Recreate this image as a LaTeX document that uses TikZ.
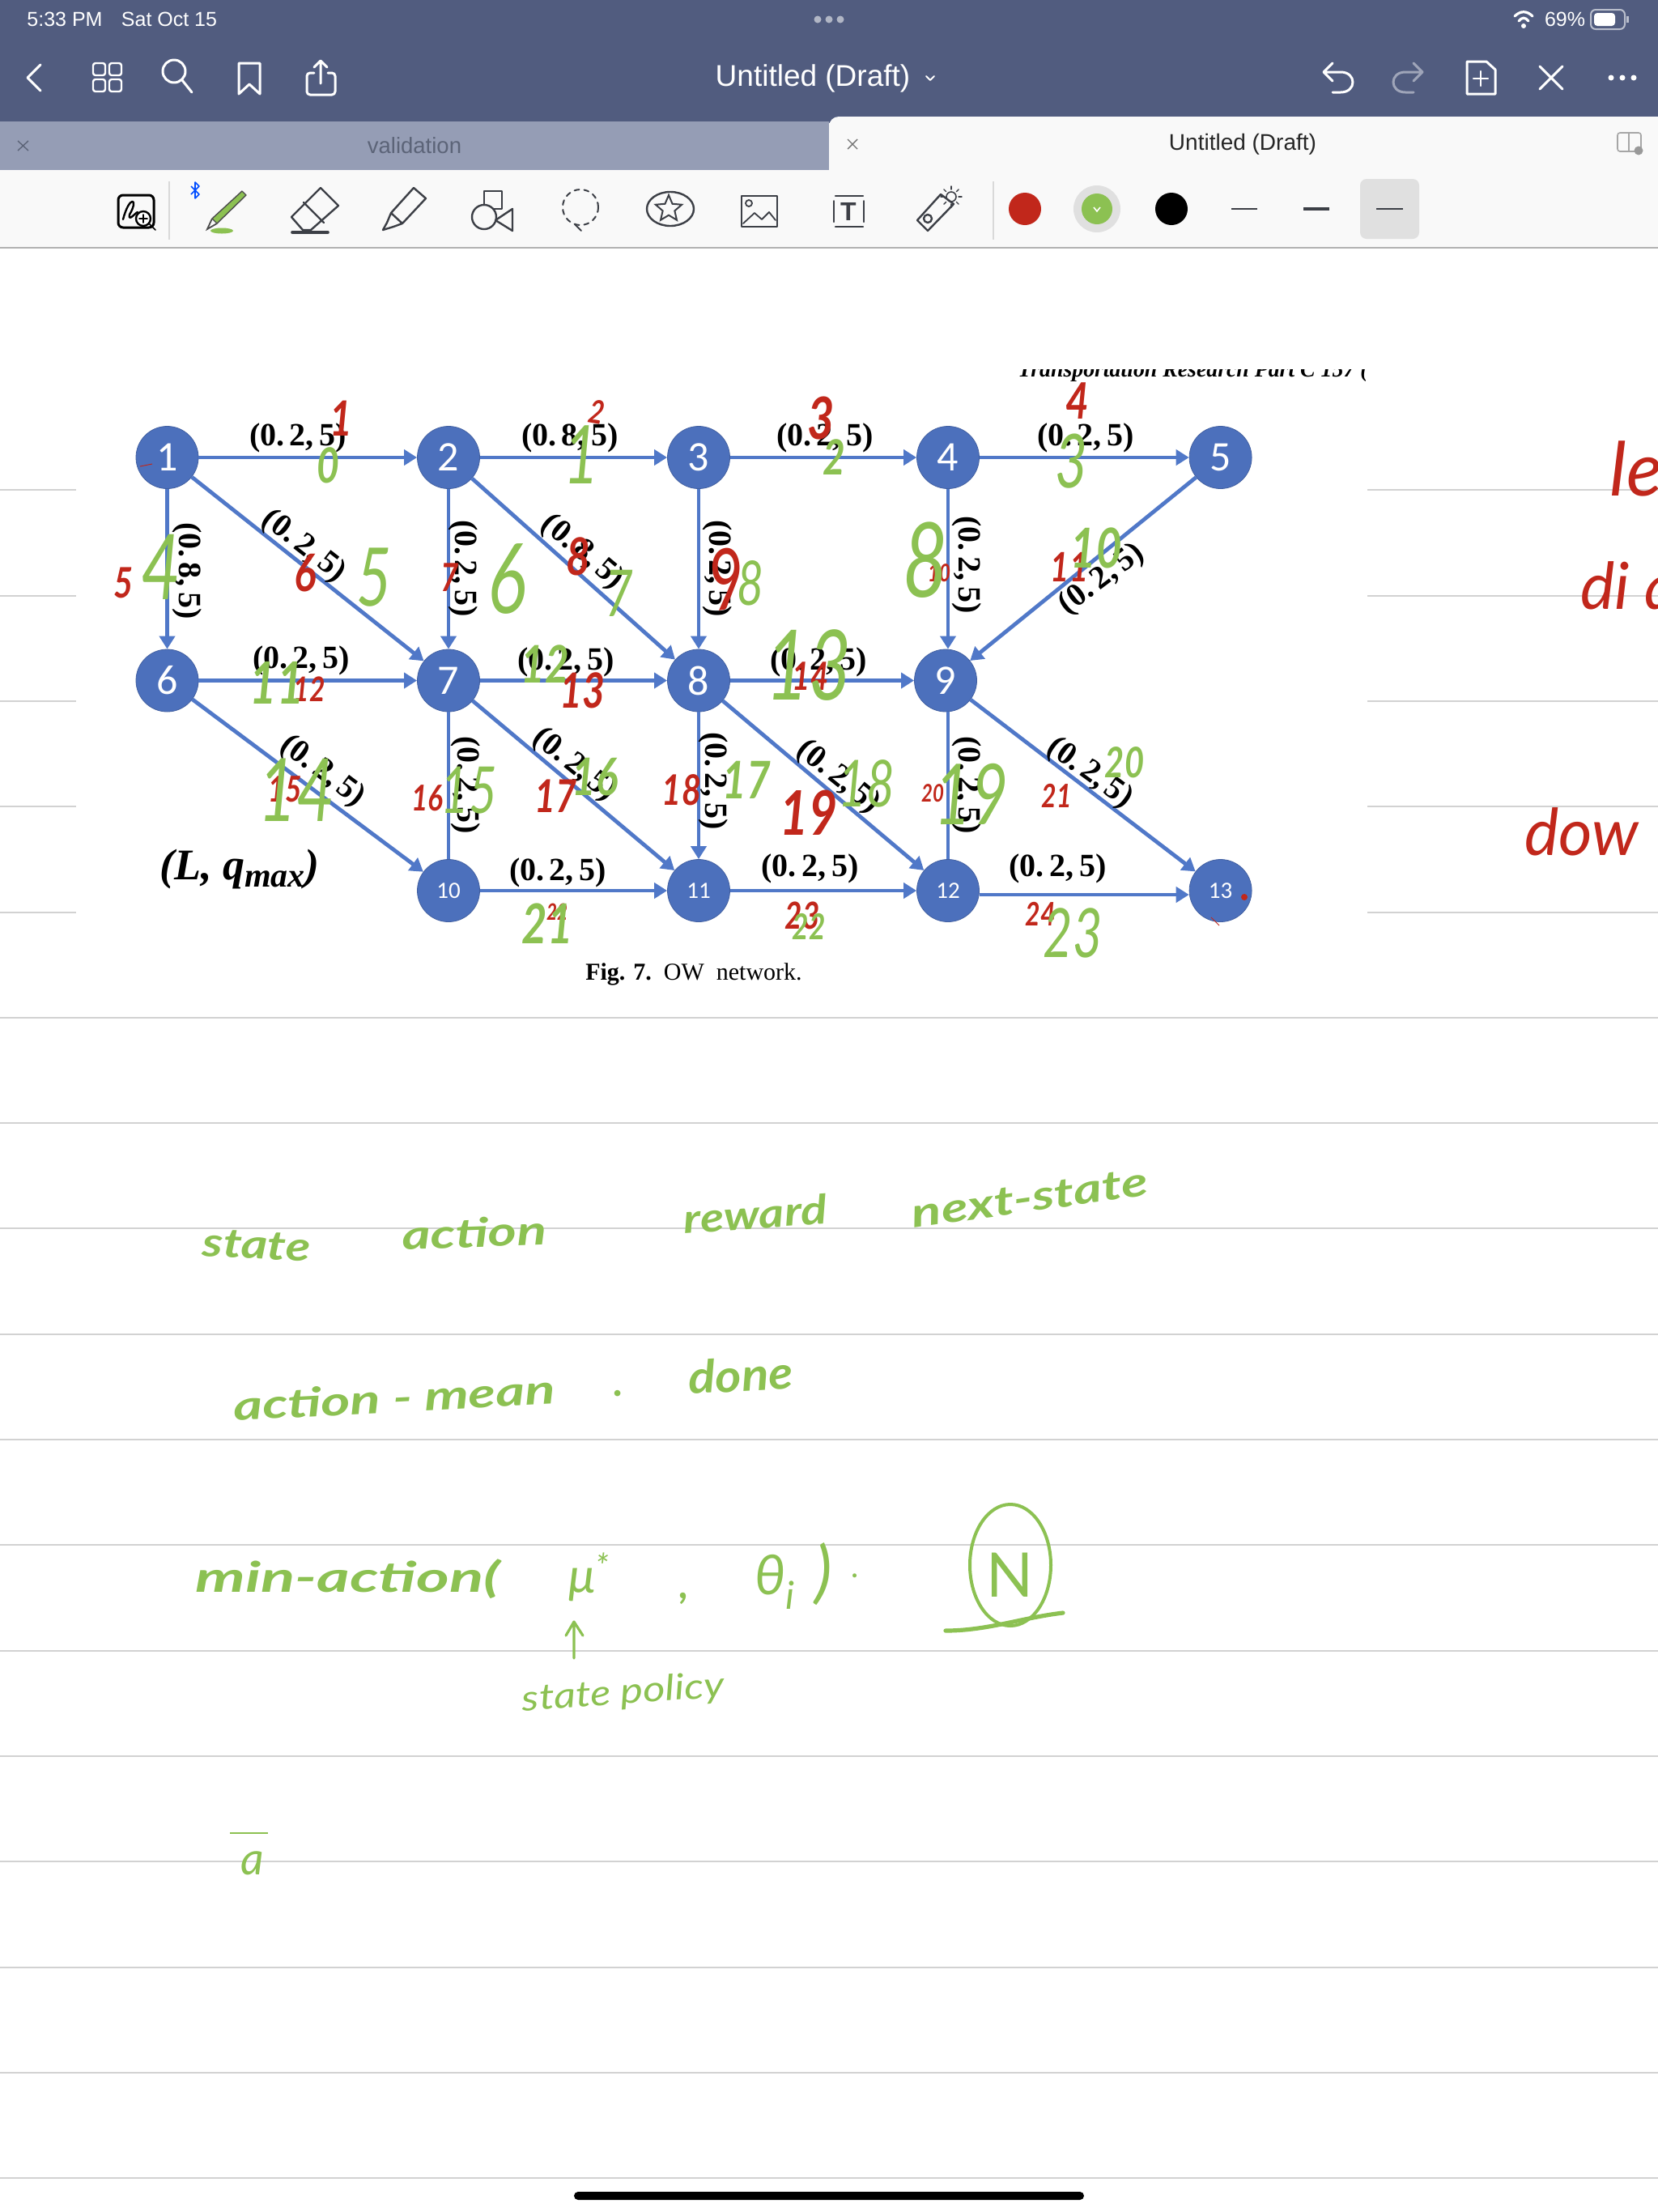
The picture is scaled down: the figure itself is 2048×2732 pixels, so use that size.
\documentclass[tikz,border=0pt]{standalone}
\usepackage{fontspec}
\usetikzlibrary{arrows.meta,shapes.geometric,calc}
\setmainfont{Liberation Sans}
\newfontfamily\paperserif{Liberation Serif}
\newfontfamily\netfont{Carlito}
\newfontfamily\hw{Lato}
\definecolor{barblue}{HTML}{515C7F}
\definecolor{tabblue}{HTML}{959DB5}
\definecolor{tabtext}{HTML}{5C6478}
\definecolor{chrome}{HTML}{F9F9F9}
\definecolor{ruled}{HTML}{D2D2D2}
\definecolor{netblue}{HTML}{4C70BC}
\definecolor{edgeblue}{HTML}{5078C8}
\definecolor{inkgreen}{HTML}{8CC152}
\definecolor{inkred}{HTML}{C1271B}
\definecolor{icongrey}{HTML}{3C3F46}
\newcommand{\fsz}[1]{\fontsize{#1}{#1}\selectfont}
\newcommand{\wide}[2]{\scalebox{#1}[1]{#2}}
\newcommand{\netlabel}[1]{(#1.\,2,\,5)}
\tikzset{
  netnode/.style={circle,fill=netblue,draw=netblue!85!black,line width=.4pt,inner sep=0pt,minimum size=38.5pt,text=white,font=\netfont\fsz{26}},
  smallnet/.style={netnode,font=\netfont\fsz{14.5}},
  edge/.style={draw=edgeblue,line width=2.4pt,-{Triangle[length=8pt,width=9.5pt]}},
  plainedge/.style={draw=edgeblue,line width=2.4pt},
  edgelabel/.style={inner sep=0pt,font=\paperserif\bfseries\fsz{20},text=black},
  gmark/.style={inner sep=0pt,text=inkgreen},
  rmark/.style={inner sep=0pt,text=inkred},
  gword/.style={inner sep=0pt,text=inkgreen},
  uitext/.style={inner sep=0pt,text=white},
  wicon/.style={draw=white,line width=1.5pt,line cap=round,line join=round},
  kicon/.style={draw=icongrey,line width=1.2pt,line cap=round,line join=round},
  ruling/.style={draw=ruled,line width=1pt}
}
% name, x, y, size(pt), rotation, text
\newcommand{\gmk}[6]{\node[gmark,rotate=#5] (#1) at (#2,#3) {\hw\bfseries\itshape\fsz{#4}\wide{.8}{#6}};}
\newcommand{\gml}[6]{\node[gmark,rotate=#5] (#1) at (#2,#3) {\hw\itshape\fsz{#4}\wide{.75}{#6}};}
\newcommand{\rmk}[6]{\node[rmark,rotate=#5] (#1) at (#2,#3) {\hw\bfseries\itshape\fsz{#4}\wide{.8}{#6}};}
\newcommand{\rml}[6]{\node[rmark,rotate=#5] (#1) at (#2,#3) {\hw\itshape\fsz{#4}\wide{.75}{#6}};}
\begin{document}
\begin{tikzpicture}[x=0.5pt,y=-0.5pt]
\useasboundingbox (0,0) rectangle (2048,2732);
\fill[white] (0,0) rectangle (2048,2732);

% ---------- ruled paper
\foreach \k in {0,...,4}{
  \draw[ruling] (0,{605.3+130.3*\k}) -- (94,{605.3+130.3*\k});
  \draw[ruling] (1689,{605.3+130.3*\k}) -- (2048,{605.3+130.3*\k});
}
\foreach \k in {5,...,16}{
  \draw[ruling] (0,{605.3+130.3*\k}) -- (2048,{605.3+130.3*\k});
}

% ---------- app chrome
\fill[barblue] (0,0) rectangle (2048,152);
\fill[tabblue] (0,150) rectangle (1024,210);
\fill[chrome,rounded corners=6pt] (1024,230) rectangle (2060,144);
\fill[chrome] (0,210) rectangle (2048,305);
\draw[draw=black!30,line width=.8pt] (0,306) -- (2048,306);

\node[uitext,font=\fsz{12.5}] (clock) at (80,24) {5:33 PM};
\node[uitext,font=\fsz{12.5}] (date) at (209,24) {Sat Oct 15};
\node[uitext,font=\fsz{12.5}] (batt) at (1933,24) {69\%};
\fill[white!55!barblue] (1010,24) circle[radius=4.5] (1024,24) circle[radius=4.5] (1038,24) circle[radius=4.5];
% wifi
\draw[white,line width=1.6pt,line cap=round] (1871,20) .. controls (1878,13) and (1886,13) .. (1893,20);
\draw[white,line width=1.6pt,line cap=round] (1876,26) .. controls (1880,21) and (1884,21) .. (1888,26);
\fill[white] (1882,32) circle[radius=3];
% battery
\draw[draw=white!60!barblue,line width=1pt,rounded corners=3pt] (1965,12) rectangle (2007,36);
\fill[white,rounded corners=2pt] (1969,16) rectangle (1995,32);
\fill[white!60!barblue] (2009,20) rectangle (2012,28);

% top bar icons
\draw[wicon] (50,80) -- (34,96) -- (50,112);
\foreach \gx/\gy in {115/78,135/78,115/98,135/98}
  \draw[wicon,line width=1.2pt,rounded corners=1.5pt] (\gx,\gy) rectangle ++(15,15);
\draw[wicon] (215,88) circle[radius=14] (225,99) -- (237,114);
\draw[wicon] (295,78) -- (321,78) -- (321,116) -- (308,104) -- (295,116) -- cycle;
\draw[wicon,rounded corners=2pt] (388,90) -- (379,90) -- (379,117) -- (414,117) -- (414,90) -- (405,90);
\draw[wicon] (396,103) -- (396,76) (388,83) -- (396,75) -- (404,83);
\draw[wicon] (1646,78) -- (1635,89) -- (1646,100) (1635,89) -- (1656,89) .. controls (1676,89) and (1676,114) .. (1656,114) -- (1646,114);
\draw[wicon,draw=white!45!barblue] (1746,78) -- (1757,89) -- (1746,100) (1757,89) -- (1736,89) .. controls (1716,89) and (1716,114) .. (1736,114) -- (1746,114);
\draw[wicon] (1812,76) -- (1836,76) -- (1847,86) -- (1847,116) -- (1812,116) -- cycle;
\draw[wicon,line width=1.1pt] (1829,88) -- (1829,106) (1820,97) -- (1838,97);
\draw[wicon] (1902,110) -- (1930,82) (1902,82) -- (1930,110);
\fill[white] (1990,96) circle[radius=3.5] (2004,96) circle[radius=3.5] (2018,96) circle[radius=3.5];
\node[uitext,font=\fsz{18.5}] (maintitle) at (1004,97) {Untitled (Draft)};
\draw[wicon,line width=.9pt] (1144,94) -- (1149,99) -- (1154,94);

% tabs
\draw[draw=tabtext,line width=.7pt] (22,174) -- (35,186) (35,174) -- (22,186);
\node[inner sep=0pt,text=tabtext,font=\fsz{13.75}] (tabone) at (512,180) {validation};
\draw[draw=black!55,line width=.7pt] (1047,172) -- (1059,184) (1059,172) -- (1047,184);
\node[inner sep=0pt,text=black!85,font=\fsz{14}] (tabtwo) at (1535,178) {Untitled (Draft)};
\draw[draw=black!35,line width=.8pt,rounded corners=1.5pt] (1998,164) rectangle (2027,187);
\draw[draw=black!35,line width=.8pt] (2012,164) -- (2012,187);
\fill[black!40] (2024,186) circle[radius=5.5];

% toolbar icons
\draw[kicon,draw=black,line width=1.5pt,rounded corners=3pt] (146,241) rectangle (190,281);
\draw[kicon,draw=black] (152,271) .. controls (160,240) and (172,245) .. (160,265) .. controls (158,275) and (168,262) .. (170,262);
\draw[kicon,draw=black,fill=white] (177,270) circle[radius=9];
\draw[kicon,draw=black,line width=.8pt] (172,270) -- (182,270) (177,265) -- (177,275) (184,276) -- (192,284);
\draw[draw=black!15,line width=.7pt] (209,224) -- (209,296);
\draw[draw=blue!70!cyan,line width=.8pt,line join=round] (236,230) -- (246,240) -- (241,245) -- (241,225) -- (246,230) -- (236,240);
\fill[inkgreen,draw=black!70,line width=.7pt,line join=round] (299,236) -- (304,241) -- (268,276) -- (262,270) -- cycle;
\draw[black!70,line width=.9pt] (262,270) -- (256,283) -- (268,276);
\fill[inkgreen] (274,285) ellipse[x radius=14,y radius=3.5];
\draw[kicon] (396,232) -- (418,254) -- (384,284) -- (374,284) -- (360,268) -- cycle (375,250) -- (400,275);
\draw[kicon,line width=1.8pt] (361,287) -- (405,287);
\draw[kicon] (511,232) -- (526,245) -- (497,276) -- (483,263) -- cycle (483,263) -- (478,275) -- (473,284) (497,276) -- (486,280) -- (473,284);
\draw[kicon] (598,236) rectangle (620,258);
\draw[kicon,fill=chrome] (598,268) circle[radius=15];
\draw[kicon,fill=chrome] (633,258) -- (633,285) -- (612,272) -- cycle;
\draw[kicon,dashed,line width=1pt] (717,256) circle[radius=22];
\draw[kicon,line width=1pt] (710,277) -- (718,285);
\draw[kicon] (828,258) ellipse[x radius=29,y radius=21];
\node[draw=icongrey,line width=1pt,star,star points=5,star point ratio=2.2,inner sep=0pt,minimum size=17pt] (stickerstar) at (826,258) {};
\draw[kicon] (916,242) rectangle (960,280);
\draw[kicon,line width=.9pt] (925,251) circle[radius=4] (918,276) -- (932,263) -- (941,271) -- (950,262) -- (958,272);
\draw[kicon] (1032,242) -- (1066,242) (1032,280) -- (1066,280);
\draw[kicon,line width=1pt] (1030,248) -- (1030,274) (1067,248) -- (1067,274);
\node[inner sep=0pt,text=icongrey,font=\bfseries\fsz{16}] (toolT) at (1048,261) {T};
\draw[kicon] (1133,272) -- (1162,240) -- (1178,252) -- (1146,285) -- cycle (1146,270) circle[radius=5];
\draw[kicon,line width=.8pt] (1175,243) circle[radius=6];
\foreach \a in {0,45,...,315}
  \draw[kicon,line width=.7pt] ($(1175,243)+(\a:9)$) -- ($(1175,243)+(\a:13)$);
\draw[draw=black!15,line width=.7pt] (1227,224) -- (1227,296);
\fill[inkred] (1266,258) circle[radius=20];
\fill[black!12] (1355,258) circle[radius=29];
\fill[inkgreen] (1355,258) circle[radius=19];
\draw[white,line width=.8pt] (1351,256) -- (1355,261) -- (1359,256);
\fill[black] (1447,258) circle[radius=20];
\draw[icongrey,line width=1pt] (1521,258) -- (1553,258);
\draw[icongrey,line width=2pt] (1610,258) -- (1642,258);
\fill[black!12,rounded corners=4pt] (1680,221) rectangle (1753,295);
\draw[icongrey,line width=1.3pt] (1700,258) -- (1733,258);
\fill[black,rounded corners=2.5pt] (709,2707) rectangle (1339,2717);

% ---------- clipped paper header
\begin{scope}
\clip (1240,456) rectangle (1689,472);
\node[anchor=base west,inner sep=0pt,font=\paperserif\bfseries\itshape\fsz{13.9}] (header) at (1257,465) {Transportation Research Part C 157 (};
\end{scope}

% ---------- network nodes
\node[netnode] (n1) at (206.5,565) {1};
\node[netnode] (n2) at (554,565) {2};
\node[netnode] (n3) at (863,565) {3};
\node[netnode] (n4) at (1171,565) {4};
\node[netnode] (n5) at (1507.6,565) {5};
\node[netnode] (n6) at (206.5,840.5) {6};
\node[netnode] (n7) at (554,840.5) {7};
\node[netnode] (n8) at (863,840.5) {8};
\node[netnode] (n9) at (1168,840.5) {9};
\node[smallnet] (n10) at (554,1100) {10};
\node[smallnet] (n11) at (863,1100) {11};
\node[smallnet] (n12) at (1171,1100) {12};
\node[smallnet] (n13) at (1507.6,1100) {13};

% ---------- network edges
\draw[edge] (n1) -- (n2);
\draw[edge] (n2) -- (n3);
\draw[edge] (n3) -- (n4);
\draw[edge] (n4) -- (n5);
\draw[edge] (n6) -- (n7);
\draw[edge] (n7) -- (n8);
\draw[edge] (n8) -- (n9);
\draw[edge] (n10) -- (n11);
\draw[edge] (n11) -- (n12);
\draw[edge] ([yshift=-2.5pt]n12.east) -- ([yshift=-2.5pt]n13.west);
\draw[edge] (n1) -- (n6);
\draw[edge] (n2) -- (n7);
\draw[edge] (n3) -- (n8);
\draw[edge] (n4) -- (n4 |- n9.north);
\draw[plainedge] (n7) -- (n10);
\draw[edge] (n8) -- (n11);
\draw[plainedge] (n12 |- n9.south) -- (n12);
\draw[edge] (n1) -- (n7);
\draw[edge] (n2) -- (n8);
\draw[edge] (n6) -- (n10);
\draw[edge] (n7) -- (n11);
\draw[edge] (n8) -- (n12);
\draw[edge] (n9) -- (n13);
\draw[edge] (n5) -- (n9);

% ---------- edge labels
\node[edgelabel] (l12) at (368,541) {\netlabel{0}};
\node[edgelabel] (l23) at (704,541) {(0.\,8,\,5)};
\node[edgelabel] (l34) at (1019,541) {\netlabel{0}};
\node[edgelabel] (l45) at (1341,541) {\netlabel{0}};
\node[edgelabel] (l67) at (372,816) {\netlabel{0}};
\node[edgelabel] (l78) at (699,818) {\netlabel{0}};
\node[edgelabel] (l89) at (1011,818) {\netlabel{0}};
\node[edgelabel] (l1011) at (689,1078) {\netlabel{0}};
\node[edgelabel] (l1112) at (1000.5,1073) {\netlabel{0}};
\node[edgelabel] (l1213) at (1306.6,1073) {\netlabel{0}};
\node[edgelabel,rotate=-90] (l16) at (231,705) {(0.\,8,\,5)};
\node[edgelabel,rotate=-90] (l27) at (572,702) {\netlabel{0}};
\node[edgelabel,rotate=-90] (l38) at (886,702) {\netlabel{0}};
\node[edgelabel,rotate=-90] (l49) at (1194,697.6) {\netlabel{0}};
\node[edgelabel,rotate=-90] (l710) at (575,969.6) {\netlabel{0}};
\node[edgelabel,rotate=-90] (l811) at (881.6,964.5) {\netlabel{0}};
\node[edgelabel,rotate=-90] (l912) at (1194,969.6) {\netlabel{0}};
\node[edgelabel,rotate=-38] (l17) at (375,674.7) {\netlabel{0}};
\node[edgelabel,rotate=-40] (l28) at (719,682) {(0.\,8,\,5)};
\node[edgelabel,rotate=-37] (l610) at (398,953) {\netlabel{0}};
\node[edgelabel,rotate=-39] (l711) at (709,945) {\netlabel{0}};
\node[edgelabel,rotate=-39] (l812) at (1035,960) {\netlabel{0}};
\node[edgelabel,rotate=-36] (l913) at (1346,955) {\netlabel{0}};
\node[edgelabel,rotate=37] (l59) at (1361,715.5) {\netlabel{0}};

\node[inner sep=0pt,font=\paperserif\bfseries\itshape\fsz{27}] (lq) at (296,1073) {(L, q\raisebox{-.18em}{\fsz{21}max})};
\node[inner sep=0pt,font=\paperserif\fsz{15}] (caption) at (857,1203) {\textbf{Fig. 7.}\ \ OW\ \ network.};

% ---------- red annotations (drawn first, green over them)
\draw[inkred,line width=.5pt] (173,576) -- (188,573);
\rmk{r1}{421}{517}{30}{0}{1}
\rmk{r2}{737}{509}{20}{-10}{2}
\rmk{r3}{1014}{516}{36}{0}{3}
\rmk{r4}{1331}{495}{31}{0}{4}
\rmk{r5}{153}{720}{26}{0}{5}
\rmk{r6}{377}{708}{32}{0}{6}
\rmk{r7}{556}{713}{24}{0}{7}
\rmk{r8}{714}{687}{32}{0}{8}
\rml{r9}{898}{715}{52}{8}{9}
\rmk{r10}{1160}{708}{15}{0}{10}
\rmk{r11}{1321}{700}{25}{0}{11}
\rmk{r12}{382}{851}{21}{0}{12}
\rmk{r13}{719}{853}{30}{0}{13}
\rmk{r14}{1001}{835}{24}{0}{14}
\rmk{r15}{352}{975}{22}{0}{15}
\rmk{r16}{528}{986}{22}{0}{16}
\rmk{r17}{686}{983}{28}{0}{17}
\rmk{r18}{842}{976}{26}{0}{18}
\rmk{r19}{999}{1004}{38}{0}{19}
\rmk{r20}{1152}{980}{15}{0}{20}
\rmk{r21}{1305}{983}{20}{0}{21}
\rmk{r22}{688}{1126}{14}{0}{22}
\rmk{r23}{991}{1131}{23}{0}{23}
\rmk{r24}{1285}{1129}{20}{0}{24}
\fill[inkred] (1537,1108) circle[radius=4];
\draw[inkred,line width=.5pt] (1496,1133) -- (1506,1143);

% ---------- green annotations
\gmk{g0}{405}{575}{30}{0}{0}
\gml{g1}{718}{562}{50}{0}{1}
\gmk{g2}{1030}{565}{30}{0}{2}
\gml{g3}{1323}{570}{46}{0}{3}
\gml{g4}{199}{700}{56}{0}{4}
\gml{g5}{462}{713}{50}{0}{5}
\gml{g6}{627}{715}{60}{0}{6}
\gml{g7}{765}{733}{40}{0}{7}
\gml{g8a}{927}{720}{38}{0}{8}
\gml{g9}{1143}{692}{64}{0}{8}
\gmk{g10}{1354}{677}{34}{0}{10}
\gmk{g11}{342}{843}{36}{0}{11}
\gmk{g12}{673}{820}{32}{0}{12}
\gml{g13}{999}{822}{60}{0}{13}
\gml{g14}{366}{976}{54}{0}{14}
\gml{g15}{579}{976}{40}{0}{15}
\gmk{g16}{735}{960}{32}{0}{16}
\gmk{g17}{922}{963}{32}{0}{17}
\gml{g18}{1070}{968}{40}{0}{18}
\gml{g19}{1200}{981}{52}{0}{19}
\gmk{g20}{1389}{942}{26}{0}{20}
\gmk{g21}{676}{1141}{34}{0}{21}
\gmk{g22}{999}{1144}{22}{0}{22}
\gml{g23}{1325}{1152}{42}{0}{23}

% ---------- red words cut by the page edge
\node[anchor=base west,inner sep=0pt,text=inkred,font=\hw\itshape\fsz{46}] (wle) at (1988,612) {le};
\node[anchor=base west,inner sep=0pt,text=inkred,font=\hw\itshape\fsz{40}] (wdi) at (1952,752) {di a};
\node[anchor=base west,inner sep=0pt,text=inkred,font=\hw\itshape\fsz{40}] (wdo) at (1883,1056) {dow};

% ---------- green handwriting
\node[gword,font=\hw\bfseries\itshape\fsz{25},rotate=-3] (wstate) at (317,1538) {\wide{1.25}{state}};
\node[gword,font=\hw\bfseries\itshape\fsz{25},rotate=2] (waction) at (586,1522) {\wide{1.35}{action}};
\node[gword,font=\hw\bfseries\itshape\fsz{25},rotate=4] (wreward) at (933,1499) {\wide{1.2}{reward}};
\node[gword,font=\hw\bfseries\itshape\fsz{25},rotate=8] (wnext) at (1272,1480) {\wide{1.35}{next-state}};
\node[gword,font=\hw\bfseries\itshape\fsz{25},rotate=3] (wmean) at (487,1726) {\wide{1.38}{action - mean}};
\node[gword,font=\hw\bfseries\itshape\fsz{25}] (wdot) at (764,1721) {.};
\node[gword,font=\hw\bfseries\itshape\fsz{28},rotate=3] (wdone) at (915,1698) {\wide{1.1}{done}};
\node[gword,font=\hw\bfseries\itshape\fsz{26}] (wmin) at (430,1950) {\wide{1.5}{min-action(}};
\node[gword,font=\hw\itshape\fsz{30}] (wmu) at (728,1948) {μ\textsuperscript{*}};
\node[gword,font=\hw\bfseries\itshape\fsz{25}] (wcomma) at (845,1974) {,};
\node[gword,font=\hw\itshape\fsz{34}] (wtheta) at (957,1954) {θ\textsubscript{i}};
\node[gword,font=\hw\itshape\fsz{42}] (wparen) at (1017,1944) {)};
\node[gword,font=\hw\itshape\fsz{20}] (wdotb) at (1057,1946) {.};
\node[ellipse,draw=inkgreen,line width=2pt,inner sep=0pt,minimum width=50pt,minimum height=75pt] (circN) at (1248,1933) {};
\node[gword,font=\hw\fsz{38}] (wN) at (1248,1945) {N};
\coordinate (ulstart) at (1168,2014);
\coordinate (ulend) at (1313,1992);
\draw[inkgreen,line width=2.6pt,line cap=round] (ulstart) .. controls (1220,2014) and (1262,1998) .. (ulend);
\node[gword,font=\hw\itshape\fsz{22},rotate=4] (wsp) at (770,2092) {\wide{1.2}{state policy}};
\coordinate (arrowfoot) at (709,2048);
\coordinate (arrowhead) at (709,2003);
\draw[inkgreen,line width=1.6pt,line cap=round,line join=round] (arrowfoot) -- (arrowhead) (699,2020) -- (arrowhead) -- (720,2020);
\node[gword,font=\hw\itshape\fsz{28}] (wabar) at (312,2301) {a};
\draw[inkgreen,line width=1.4pt] (284,2264) -- (331,2264);
\end{tikzpicture}
\end{document}
